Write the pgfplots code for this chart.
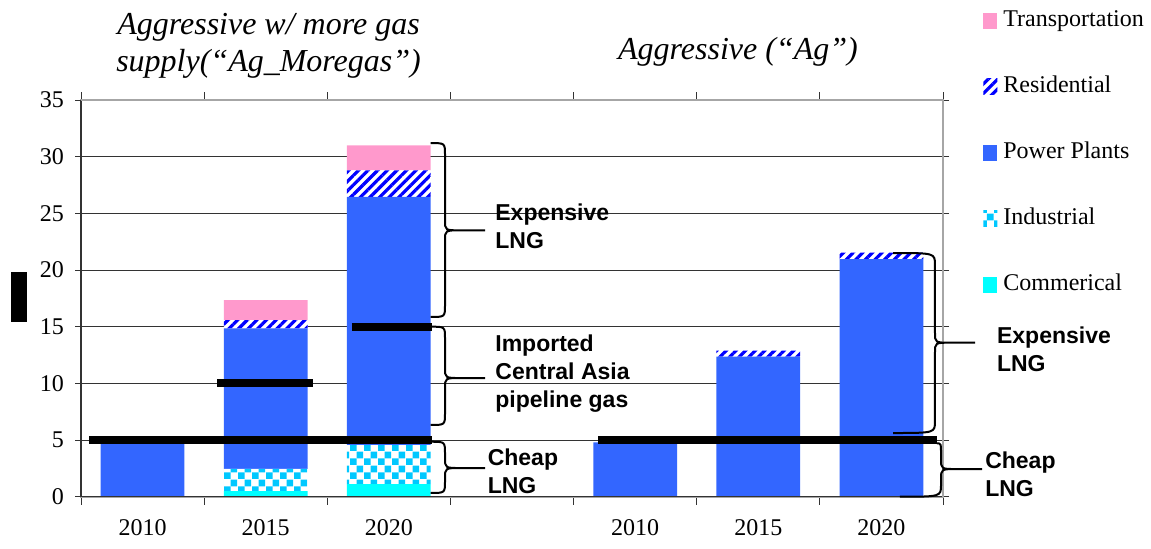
\documentclass[border=0pt]{standalone}
\usepackage{fontspec}
\setmainfont{Liberation Serif}
\newfontfamily\annofont{Liberation Sans}
\usepackage{pgfplots}
\usepackage{pgfplotstable}
\pgfplotsset{compat=1.18}
\usetikzlibrary{patterns.meta}

\definecolor{powerblue}{HTML}{3366FF}
\definecolor{transpink}{HTML}{FF99CC}
\definecolor{resblue}{HTML}{0000FF}
\definecolor{indcyan}{HTML}{00C8FF}
\definecolor{commcyan}{HTML}{00FFFF}

\tikzdeclarepattern{
  name=bigcheck,
  type=uncolored,
  bounding box={(0pt,0pt) and (7pt,7pt)},
  tile size={(7pt,7pt)},
  code={
    \fill (0pt,0pt) rectangle (3.5pt,3.5pt);
    \fill (3.5pt,3.5pt) rectangle (7pt,7pt);
  }
}

% slots 0-2: Ag_Moregas, slots 4-6: Ag
\pgfplotstableread{
x  comm  ind   power  res   trans
0  0     0     4.7    0     0
1  0.5   1.95  12.4   0.74  1.76
2  1.1   3.45  21.9   2.35  2.2
4  0     0     4.8    0     0
5  0     0     12.36  0.53  0
6  0     0     20.97  0.56  0
}\lngdata

% brace: top end x, top y, bottom end x, bottom y, stem x, tip y, tip x
\newcommand\lngbrace[7]{%
  \draw[line width=1pt] (axis cs:#1,#2) .. controls (axis cs:#5,#2) .. ([yshift=-6pt]axis cs:#5,#2)
    -- ([yshift=5pt]axis cs:#5,#6) .. controls (axis cs:#5,#6) .. ([xshift=8pt]axis cs:#5,#6) -- (axis cs:#7,#6)
    ([xshift=8pt]axis cs:#5,#6) .. controls (axis cs:#5,#6) .. ([yshift=-5pt]axis cs:#5,#6)
    -- ([yshift=6pt]axis cs:#5,#4) .. controls (axis cs:#5,#4) .. (axis cs:#3,#4);}

\tikzset{anno/.style={anchor=west, align=left, inner sep=0pt,
  font=\fontsize{11.5}{14}\annofont\bfseries}}

\begin{document}
\begin{tikzpicture}
\path[use as bounding box] (-40.5pt,-25.65pt) rectangle (535pt,248.35pt);
\begin{axis}[
  scale only axis, width=431pt, height=198.35pt,
  ybar stacked, bar width=0.68,
  xmin=-0.5, xmax=6.5, ymin=0, ymax=35,
  xtick={0,1,2,4,5,6},
  xticklabels={2010,2015,2020,2010,2015,2020},
  minor xtick={-0.5,0.5,1.5,2.5,3.5,4.5,5.5,6.5},
  ytick={0,5,10,15,20,25,30,35},
  yticklabels={0,5,10,15,20,25,30,35},
  tick align=outside, major tick length=3pt, minor tick length=4pt,
  major x tick style={draw=none},
  tick style={black!80, line width=0.5pt},
  ymajorgrids, major grid style={black!80, line width=0.5pt},
  axis line style={gray!70, line width=0.8pt},
  ticklabel style={font=\fontsize{12}{14}\rmfamily\selectfont},
  yticklabel style={xshift=-2pt},
  xticklabel style={yshift=-5pt},
  reverse legend,
  legend style={at={(axis description cs:1.0464,1.229)}, anchor=north west,
    draw=none, fill=none, inner sep=0pt, row sep=22pt, column sep=3pt,
    font=\fontsize{12}{14}\selectfont,
    nodes={inner sep=0pt, text height=8.5pt, text depth=2.5pt}},
  legend cell align=left,
  every axis plot post/.append style={legend image code/.code={\draw[##1,draw=none] (0pt,-4pt) rectangle (7pt,4pt);}},
]
\addplot[fill=commcyan, draw=none] table[x=x,y=comm]{\lngdata};
\addlegendentry{Commerical}
\addplot[draw=none, fill=white, postaction={pattern=bigcheck, pattern color=indcyan}] table[x=x,y=ind]{\lngdata};
\addlegendentry{Industrial}
\addplot[fill=powerblue, draw=none] table[x=x,y=power]{\lngdata};
\addlegendentry{Power Plants}
\addplot[draw=none, fill=white, postaction={pattern={Lines[angle=45,distance=3.4pt,line width=1.6pt]}, pattern color=resblue}] table[x=x,y=res]{\lngdata};
\addlegendentry{Residential}
\addplot[fill=transpink, draw=none] table[x=x,y=trans]{\lngdata};
\addlegendentry{Transportation}
\end{axis}

\begin{axis}[
  scale only axis, width=431pt, height=198.35pt,
  xmin=-0.5, xmax=6.5, ymin=0, ymax=35,
  hide axis, clip=false,
]
% axis frame
\draw[black!80, line width=0.7pt] (rel axis cs:0,1) -- (rel axis cs:0,0) -- (rel axis cs:1,0);
\draw[gray!70, line width=0.8pt] (rel axis cs:0,1) -- (rel axis cs:1,1) -- (rel axis cs:1,0);
% price tiers
\addplot[black, line width=4pt] coordinates {(-0.435,5) (2.35,5)};
\addplot[black, line width=4pt] coordinates {(3.70,5) (6.45,5)};
\addplot[black, line width=4pt] coordinates {(0.605,10) (1.385,10)};
\addplot[black, line width=4pt] coordinates {(1.70,15) (2.35,15)};
% braces
\lngbrace{2.34}{31.2}{2.34}{15.86}{2.456}{23.5}{2.781}
\lngbrace{2.34}{15.0}{2.34}{6.33}{2.456}{10.47}{2.781}
\lngbrace{2.34}{4.85}{2.34}{0.33}{2.456}{2.53}{2.781}
\lngbrace{6.094}{21.5}{6.094}{5.62}{6.435}{13.59}{6.76}
\lngbrace{6.45}{4.71}{6.15}{0}{6.484}{2.44}{6.817}
% labels
\node[anno] at (axis cs:2.862,23.88) {Expensive\\LNG};
\node[anno] at (axis cs:2.862,10.89) {Imported\\Central Asia\\pipeline gas};
\node[anno] at (axis cs:2.80,2.28) {Cheap\\LNG};
\node[anno] at (axis cs:6.936,13.03) {Expensive\\LNG};
\node[anno] at (axis cs:6.84,2.0) {Cheap\\LNG};
% titles
\node[align=center, font=\fontsize{16}{18.5}\selectfont\itshape] at (axis cs:1.023,39.81) {Aggressive w/ more gas\\supply(“Ag\_Moregas”)};
\node[font=\fontsize{16}{18.5}\selectfont\itshape] at (axis cs:4.835,39.26) {Aggressive (“Ag”)};
% y label (blacked out)
\node[fill=black, inner sep=0pt, minimum width=8pt, minimum height=25pt] at ([xshift=-31pt]axis description cs:0,0.504) {};
\end{axis}
\end{tikzpicture}
\end{document}
